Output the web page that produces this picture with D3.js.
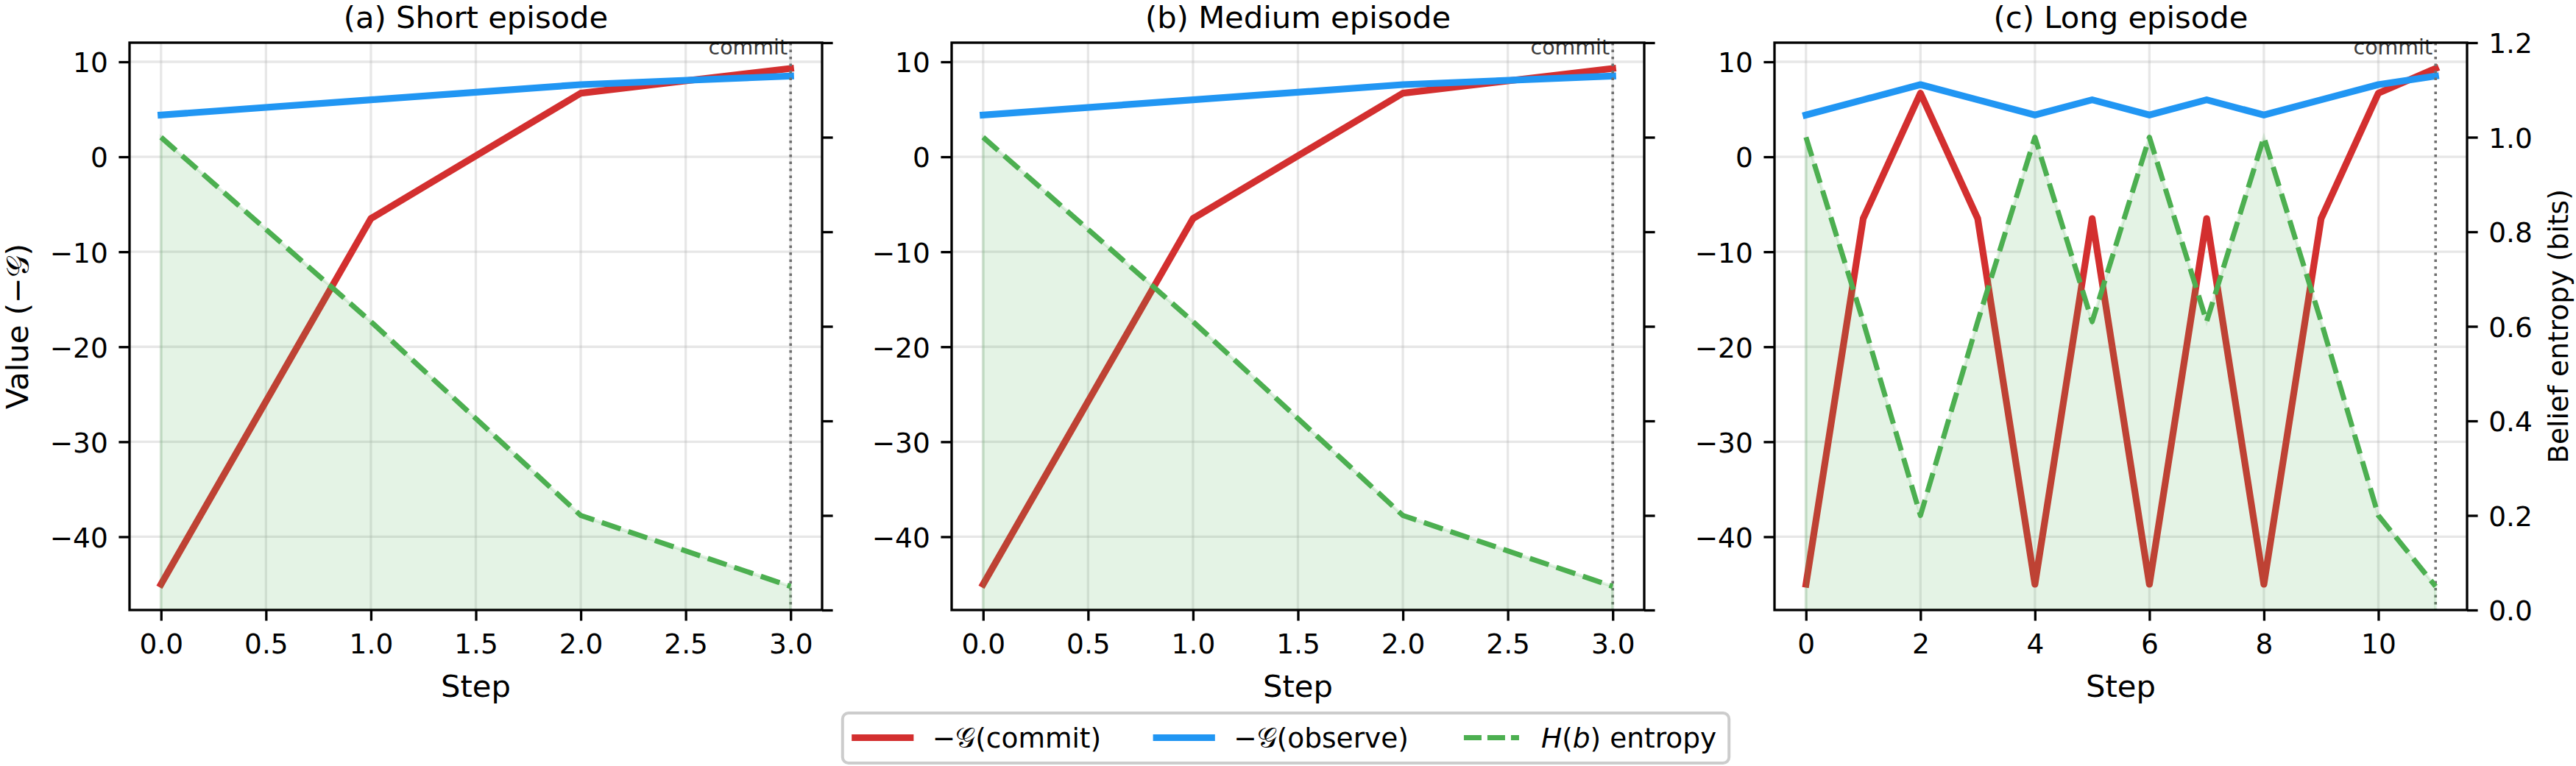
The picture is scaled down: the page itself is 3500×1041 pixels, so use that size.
<!DOCTYPE html>
<html>
<head>
<meta charset="utf-8">
<script src="https://cdn.jsdelivr.net/npm/d3@7"></script>
<style>
  body { margin: 0; background: #fff; }
  svg { display: block; font-family: 'DejaVu Sans', sans-serif; }
</style>
</head>
<body>
<script>
// values, one set per episode
let shortSteps = [0, 1, 2, 3];
let shortCommit = [-45, -6.5, 6.7, 9.3];
let shortObserve = [4.4, 6.0, 7.6, 8.5];
let shortEntropy = [1.0, 0.61, 0.2, 0.05];

let mediumSteps = [0, 1, 2, 3];
let mediumCommit = [-45, -6.5, 6.7, 9.3];
let mediumObserve = [4.4, 6.0, 7.6, 8.5];
let mediumEntropy = [1.0, 0.61, 0.2, 0.05];

let longSteps = [0, 1, 2, 3, 4, 5, 6, 7, 8, 9, 10, 11];
let longCommit = [-45, -6.5, 6.7, -6.5, -45, -6.5, -45, -6.5, -45, -6.5, 6.7, 9.3];
let longObserve = [4.4, 6.0, 7.6, 6.0, 4.4, 6.0, 4.4, 6.0, 4.4, 6.0, 7.6, 8.5];
let longEntropy = [1.0, 0.61, 0.2, 0.61, 1.0, 0.61, 1.0, 0.61, 1.0, 0.61, 0.2, 0.05];

let panelTitles = ['(a) Short episode', '(b) Medium episode', '(c) Long episode'];
let shortTicks = [0, 0.5, 1, 1.5, 2, 2.5, 3];
let longTicks = [0, 2, 4, 6, 8, 10];
let valueTicks = [-40, -30, -20, -10, 0, 10];
let entropyTicks = [0, 0.2, 0.4, 0.6, 0.8, 1.0, 1.2];
let entropyMax = 1.2;

let seriesColors = ['#D32F2F', '#2196F3', '#4CAF50'];

let panels = [
  {title: panelTitles[0], steps: shortSteps, commit: shortCommit, observe: shortObserve, entropy: shortEntropy, ticks: shortTicks, fmt: d3.format('.1f')},
  {title: panelTitles[1], steps: mediumSteps, commit: mediumCommit, observe: mediumObserve, entropy: mediumEntropy, ticks: shortTicks, fmt: d3.format('.1f')},
  {title: panelTitles[2], steps: longSteps, commit: longCommit, observe: longObserve, entropy: longEntropy, ticks: longTicks, fmt: d3.format('d')}
];

// layout (px, figure was saved at 300 dpi)
let W = 3500, H = 1041;
let panelLeft = [176, 1293, 2411];
let pw = 941, plotTop = 58, ph = 829 - 58;
let tickLen = 14.6, tickW = 3.3, spineW = 3.3;
let tickFont = 37.5, labelFont = 41.7;
let lineW = 9.2, dashW = 7;

let svg = d3.select('body').append('svg')
  .attr('width', W)
  .attr('height', H);

svg.append('rect').attr('width', W).attr('height', H).attr('fill', '#fff');

// matplotlib adds 5% margin around the data
function padded(ext) {
  let r = ext[1] - ext[0];
  return [ext[0] - 0.05 * r, ext[1] + 0.05 * r];
}

function styleAxis(a) {
  a.select('.domain').remove();
  a.selectAll('.tick line').attr('stroke', '#000').attr('stroke-width', tickW);
  a.selectAll('.tick text').attr('fill', '#000').attr('font-size', tickFont)
    .attr('font-family', 'DejaVu Sans');
}

panels.forEach(function(p, i) {
  let g = svg.append('g').attr('transform', 'translate(' + panelLeft[i] + ',' + plotTop + ')');

  let x = d3.scaleLinear().domain(padded(d3.extent(p.steps))).range([0, pw]);
  let y = d3.scaleLinear().domain(padded(d3.extent(p.commit.concat(p.observe)))).range([ph, 0]);
  let y2 = d3.scaleLinear().domain([0, entropyMax]).range([ph, 0]);

  g.append('clipPath').attr('id', 'clip' + i)
    .append('rect').attr('width', pw).attr('height', ph);

  let plot = g.append('g').attr('clip-path', 'url(#clip' + i + ')');

  // grid (only x ticks and the left axis)
  plot.selectAll('line.vgrid').data(p.ticks).enter().append('line')
    .attr('x1', d => x(d)).attr('x2', d => x(d))
    .attr('y1', 0).attr('y2', ph)
    .attr('stroke', '#b0b0b0').attr('stroke-opacity', 0.3).attr('stroke-width', 3.3);
  plot.selectAll('line.hgrid').data(valueTicks).enter().append('line')
    .attr('x1', 0).attr('x2', pw)
    .attr('y1', d => y(d)).attr('y2', d => y(d))
    .attr('stroke', '#b0b0b0').attr('stroke-opacity', 0.3).attr('stroke-width', 3.3);

  let valueLine = d3.line()
    .x((d, j) => x(p.steps[j]))
    .y(d => y(d));

  plot.append('path').datum(p.commit)
    .attr('d', valueLine)
    .attr('fill', 'none').attr('stroke', seriesColors[0]).attr('stroke-width', lineW)
    .attr('stroke-linejoin', 'round').attr('stroke-linecap', 'square');

  plot.append('path').datum(p.observe)
    .attr('d', valueLine)
    .attr('fill', 'none').attr('stroke', seriesColors[1]).attr('stroke-width', lineW)
    .attr('stroke-linejoin', 'round').attr('stroke-linecap', 'square');

  // commit marker at the last step
  let lastStep = p.steps[p.steps.length - 1];
  plot.append('line')
    .attr('x1', x(lastStep)).attr('x2', x(lastStep))
    .attr('y1', 0).attr('y2', ph)
    .attr('stroke', '#6f6f6f').attr('stroke-width', 3.6)
    .attr('stroke-dasharray', '3.6,5.9');

  // twin axis: entropy area sits above the value lines
  let area = d3.area()
    .x((d, j) => x(p.steps[j]))
    .y0(y2(0))
    .y1(d => y2(d));
  plot.append('path').datum(p.entropy)
    .attr('d', area)
    .attr('fill', seriesColors[2]).attr('fill-opacity', 0.15)
    .attr('stroke', seriesColors[2]).attr('stroke-opacity', 0.15).attr('stroke-width', 4);

  let entropyLine = d3.line()
    .x((d, j) => x(p.steps[j]))
    .y(d => y2(d));
  plot.append('path').datum(p.entropy)
    .attr('d', entropyLine)
    .attr('fill', 'none').attr('stroke', seriesColors[2]).attr('stroke-width', dashW)
    .attr('stroke-dasharray', '27,11').attr('stroke-linejoin', 'round');

  g.append('text')
    .attr('x', x(lastStep) - 4).attr('y', 15.5)
    .attr('text-anchor', 'end')
    .attr('font-size', 28.5).attr('fill', '#3a3a3a')
    .text('commit');

  // axes
  let xAxis = d3.axisBottom(x).tickValues(p.ticks).tickFormat(p.fmt).tickSize(tickLen);
  let ax = g.append('g').attr('transform', 'translate(0,' + ph + ')').call(xAxis);
  styleAxis(ax);
  ax.selectAll('.tick text').attr('y', 58.5).attr('dy', null);

  let yAxis = d3.axisLeft(y).tickValues(valueTicks).tickFormat(d3.format('d')).tickSize(tickLen).tickPadding(tickLen);
  let ay = g.append('g').call(yAxis);
  styleAxis(ay);
  ay.selectAll('.tick text').attr('dy', '0.37em');

  let y2Axis = d3.axisRight(y2).tickValues(entropyTicks).tickSize(tickLen).tickPadding(tickLen)
    .tickFormat(i === 2 ? d3.format('.1f') : '');
  let ay2 = g.append('g').attr('transform', 'translate(' + pw + ',0)').call(y2Axis);
  styleAxis(ay2);
  ay2.selectAll('.tick text').attr('dy', '0.37em');

  // spines
  g.append('rect')
    .attr('width', pw).attr('height', ph)
    .attr('fill', 'none').attr('stroke', '#000').attr('stroke-width', spineW);

  g.append('text')
    .attr('x', pw / 2).attr('y', -20)
    .attr('text-anchor', 'middle').attr('font-size', labelFont)
    .text(p.title);

  g.append('text')
    .attr('x', pw / 2).attr('y', 889)
    .attr('text-anchor', 'middle').attr('font-size', labelFont)
    .text('Step');
});

// left y label
let yl = svg.append('text')
  .attr('transform', 'translate(23,' + (plotTop + ph / 2) + ') rotate(-90)')
  .attr('text-anchor', 'middle').attr('dominant-baseline', 'central')
  .attr('font-size', labelFont);
yl.append('tspan').text('Value (\u2212');
yl.append('tspan').text('\uD835\uDCA2');
yl.append('tspan').text(')');

// right y label
svg.append('text')
  .attr('transform', 'translate(3476,' + (plotTop + ph / 2) + ') rotate(-90)')
  .attr('text-anchor', 'middle').attr('dominant-baseline', 'central')
  .attr('font-size', tickFont)
  .text('Belief entropy (bits)');

// legend
let legendItems = [
  {parts: [['\u2212', false], ['\uD835\uDCA2', false], ['(commit)', false]], color: seriesColors[0], dash: null},
  {parts: [['\u2212', false], ['\uD835\uDCA2', false], ['(observe)', false]], color: seriesColors[1], dash: null},
  {parts: [['H', true], ['(', false], ['b', true], [') entropy', false]], color: seriesColors[2], dash: '24,8'}
];

let handleLen = 75, textPad = 30, colSpace = 75, legPad = 15;
let legCenter = 1747, legTop = 969, legH = 68;
let handleY = 1002.5, textY = 1016;

let legend = svg.append('g');
let frame = legend.append('rect');

let items = legend.selectAll('g.item').data(legendItems).enter().append('g');
let texts = items.append('text').attr('font-size', tickFont).attr('y', textY);
texts.each(function(d) {
  let t = d3.select(this);
  d.parts.forEach(function(pt) {
    t.append('tspan').attr('font-style', pt[1] ? 'italic' : 'normal').text(pt[0]);
  });
});

let widths = texts.nodes().map(n => n.getComputedTextLength());
let total = d3.sum(widths) + legendItems.length * (handleLen + textPad) + colSpace * (legendItems.length - 1);
let cx = legCenter - total / 2;

items.each(function(d, k) {
  let it = d3.select(this);
  it.insert('line', 'text')
    .attr('x1', cx).attr('x2', cx + handleLen)
    .attr('y1', handleY).attr('y2', handleY)
    .attr('stroke', d.color)
    .attr('stroke-width', d.dash ? dashW : lineW)
    .attr('stroke-linecap', d.dash ? 'butt' : 'square')
    .attr('stroke-dasharray', d.dash);
  it.select('text').attr('x', cx + handleLen + textPad);
  cx += handleLen + textPad + widths[k] + colSpace;
});

frame
  .attr('x', legCenter - total / 2 - legPad - 2)
  .attr('y', legTop)
  .attr('width', total + 2 * legPad + 4)
  .attr('height', legH)
  .attr('rx', 8).attr('ry', 8)
  .attr('fill', '#fff').attr('fill-opacity', 0.8)
  .attr('stroke', '#cccccc').attr('stroke-width', 4);
</script>
</body>
</html>
